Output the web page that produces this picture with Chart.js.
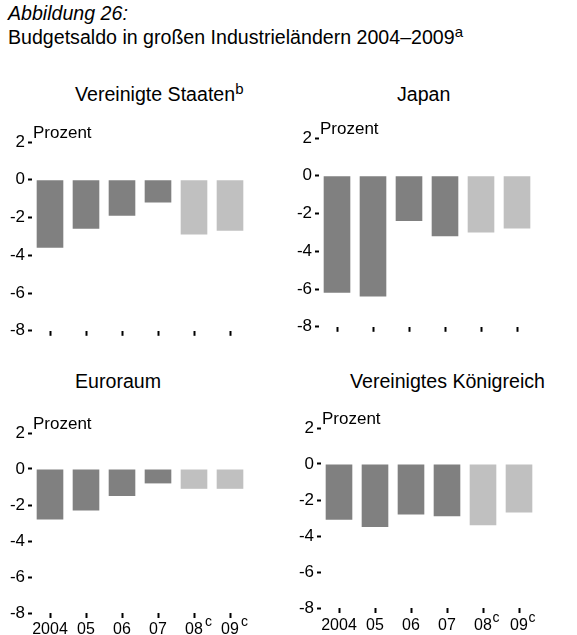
<!DOCTYPE html>
<html>
<head>
<meta charset="utf-8">
<script src="https://cdn.jsdelivr.net/npm/chart.js@4"></script>
<style>
body { margin: 0; background: #fff; }
#page { position: relative; width: 577px; height: 635px; overflow: hidden;
        font-family: "Liberation Sans", Arial, sans-serif; color: #000; }
.t { position: absolute; white-space: nowrap; font-size: 19.6px; line-height: 1; }
.t sup { font-size: 15px; vertical-align: top; position: relative; top: -4px; }
canvas { position: absolute; }
</style>
</head>
<body>
<div id="page">
  <div class="t" style="left:8px;top:4px;font-style:italic">Abbildung 26:</div>
  <div class="t" style="left:8px;top:28px">Budgetsaldo in großen Industrieländern 2004–2009<sup>a</sup></div>

  <div class="t" style="left:75px;top:85px">Vereinigte Staaten<sup>b</sup></div>
  <div class="t" style="left:397px;top:85px">Japan</div>
  <div class="t" style="left:75px;top:372px">Euroraum</div>
  <div class="t" style="left:350px;top:372px">Vereinigtes Königreich</div>

  <canvas id="cUS" width="256" height="228" style="left:0px;top:116px"></canvas>
  <canvas id="cJP" width="256" height="228" style="left:287px;top:112px"></canvas>
  <canvas id="cEU" width="256" height="228" style="left:0px;top:407px"></canvas>
  <canvas id="cUK" width="256" height="233" style="left:289px;top:402px"></canvas>
</div>

<script>
// Budgetsaldo in % (2008, 2009 = Prognose)
var years = ['2004', '05', '06', '07', '08', '09'];
var yearSup = ['', '', '', '', 'c', 'c'];
var usa = [-3.6, -2.6, -1.9, -1.2, -2.9, -2.7];
var japan = [-6.2, -6.4, -2.4, -3.2, -3.0, -2.8];
var euro = [-2.8, -2.3, -1.5, -0.8, -1.1, -1.1];
var uk = [-3.1, -3.5, -2.8, -2.9, -3.4, -2.7];
var yMin = -8, yMax = 2, yStep = 2;

var FONT = '"Liberation Sans", Arial, sans-serif';
var barColors = ['#808080', '#808080', '#808080', '#808080', '#c0c0c0', '#c0c0c0'];

var annot = {
	id: 'annot',
	afterDraw: function(chart, args, opts) {
		var ctx = chart.ctx, area = chart.chartArea;
		var x = chart.scales.x, y = chart.scales.y;
		ctx.save();
		ctx.fillStyle = '#000';
		ctx.textBaseline = 'alphabetic';
		ctx.font = '17px ' + FONT;
		ctx.textAlign = 'left';
		ctx.fillText('Prozent', area.left + 1, y.getPixelForValue(yMax) - 4);
		if (opts.labels) {
			for (var i = 0; i < years.length; i++) {
				var cx = x.getPixelForTick(i);
				var by = area.bottom + opts.labelDy;
				ctx.font = '16px ' + FONT;
				ctx.textAlign = 'center';
				ctx.fillText(years[i], cx, by);
				if (yearSup[i]) {
					var w = ctx.measureText(years[i]).width;
					ctx.font = '14px ' + FONT;
					ctx.textAlign = 'left';
					ctx.fillText(yearSup[i], cx + w / 2 + opts.supGap, by - 8);
				}
			}
		}
		ctx.restore();
	}
};

function panel(id, values, topPad, bottomAt, labels, labelDy, supGap) {
	var canvas = document.getElementById(id);
	var H = canvas.height;
	return new Chart(canvas, {
		type: 'bar',
		data: {
			labels: years,
			datasets: [{
				data: values,
				backgroundColor: barColors,
				borderWidth: 0,
				barPercentage: 0.74,
				categoryPercentage: 1
			}]
		},
		options: {
			responsive: false,
			animation: false,
			devicePixelRatio: 1,
			layout: { padding: { left: 0, right: 8, top: topPad, bottom: 0 } },
			plugins: {
				legend: { display: false },
				tooltip: { enabled: false },
				annot: { labels: labels, labelDy: labelDy, supGap: supGap }
			},
			scales: {
				x: {
					offset: true,
					border: { display: false },
					grid: { display: true, drawOnChartArea: false, drawTicks: true,
						tickLength: 5, tickWidth: 2, color: '#000', offset: false },
					ticks: { display: false },
					afterFit: function(s) { s.height = H - bottomAt; }
				},
				y: {
					min: yMin,
					max: yMax,
					border: { display: false },
					grid: { display: true, drawOnChartArea: false, drawTicks: true,
						tickLength: 4, tickWidth: 2, color: '#000' },
					ticks: { stepSize: yStep, padding: 3, color: '#000',
						font: { family: FONT, size: 17 } },
					afterFit: function(s) { s.width = 32; }
				}
			}
		},
		plugins: [annot]
	});
}

panel('cUS', usa, 26, 218, false, 0, 0);
panel('cJP', japan, 26, 218, false, 0, 0);
panel('cEU', euro, 26, 206, true, 21, 2);
panel('cUK', uk, 26, 206, true, 22, 0.5);
</script>
</body>
</html>
